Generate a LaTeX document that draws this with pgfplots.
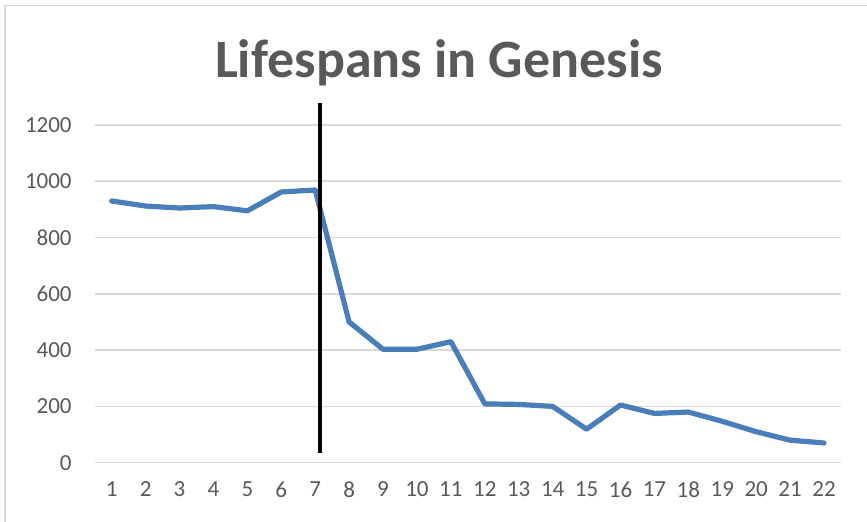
\documentclass[border=0pt]{standalone}
\usepackage{pgfplots}
\pgfplotsset{compat=1.18}
\usepackage{fontspec}
\setmainfont{Carlito}
\definecolor{gridgray}{HTML}{D9D9D9}
\definecolor{txtgray}{HTML}{595959}
\definecolor{lineblue}{HTML}{4A7EBB}
\begin{document}
\begin{tikzpicture}[x=1pt,y=1pt]
\useasboundingbox (0,0) rectangle (433.5,261);
\draw[gridgray,line width=0.8pt] (2.5,0) -- (2.5,258.2) -- (433.5,258.2);
\node[anchor=base,font=\fontsize{27}{30}\selectfont\bfseries,text=txtgray] at (219.5,222) {Lifespans in Genesis};
\begin{axis}[
  at={(47.35pt,29.65pt)}, anchor=south west,
  scale only axis, width=373.15pt, height=168.85pt,
  xmin=0.5, xmax=22.5, ymin=0, ymax=1200,
  xtick={1,...,22}, ytick={0,200,...,1200},
  axis line style={draw=none},
  tick style={draw=none},
  ymajorgrids, grid style={gridgray,line width=0.8pt},
  ticklabel style={font=\fontsize{11.5}{13}\selectfont,text=txtgray},
  /pgf/number format/assume math mode=true,
  /pgf/number format/1000 sep={},
  yticklabel style={xshift=-8pt},
  xticklabel style={yshift=-6pt},
  clip=false,
]
\addplot[lineblue,line width=2.6pt,line join=round,line cap=round] coordinates {
(1,930) (2,912) (3,905) (4,910) (5,895) (6,962) (7,969) (8,500) (9,403) (10,403)
(11,430) (12,209) (13,207) (14,200) (15,119) (16,205) (17,175) (18,180) (19,147)
(20,110) (21,80) (22,70)};
\addplot[black,line width=2pt] coordinates {(7.14,33) (7.14,1279)};
\end{axis}
\end{tikzpicture}
\end{document}
